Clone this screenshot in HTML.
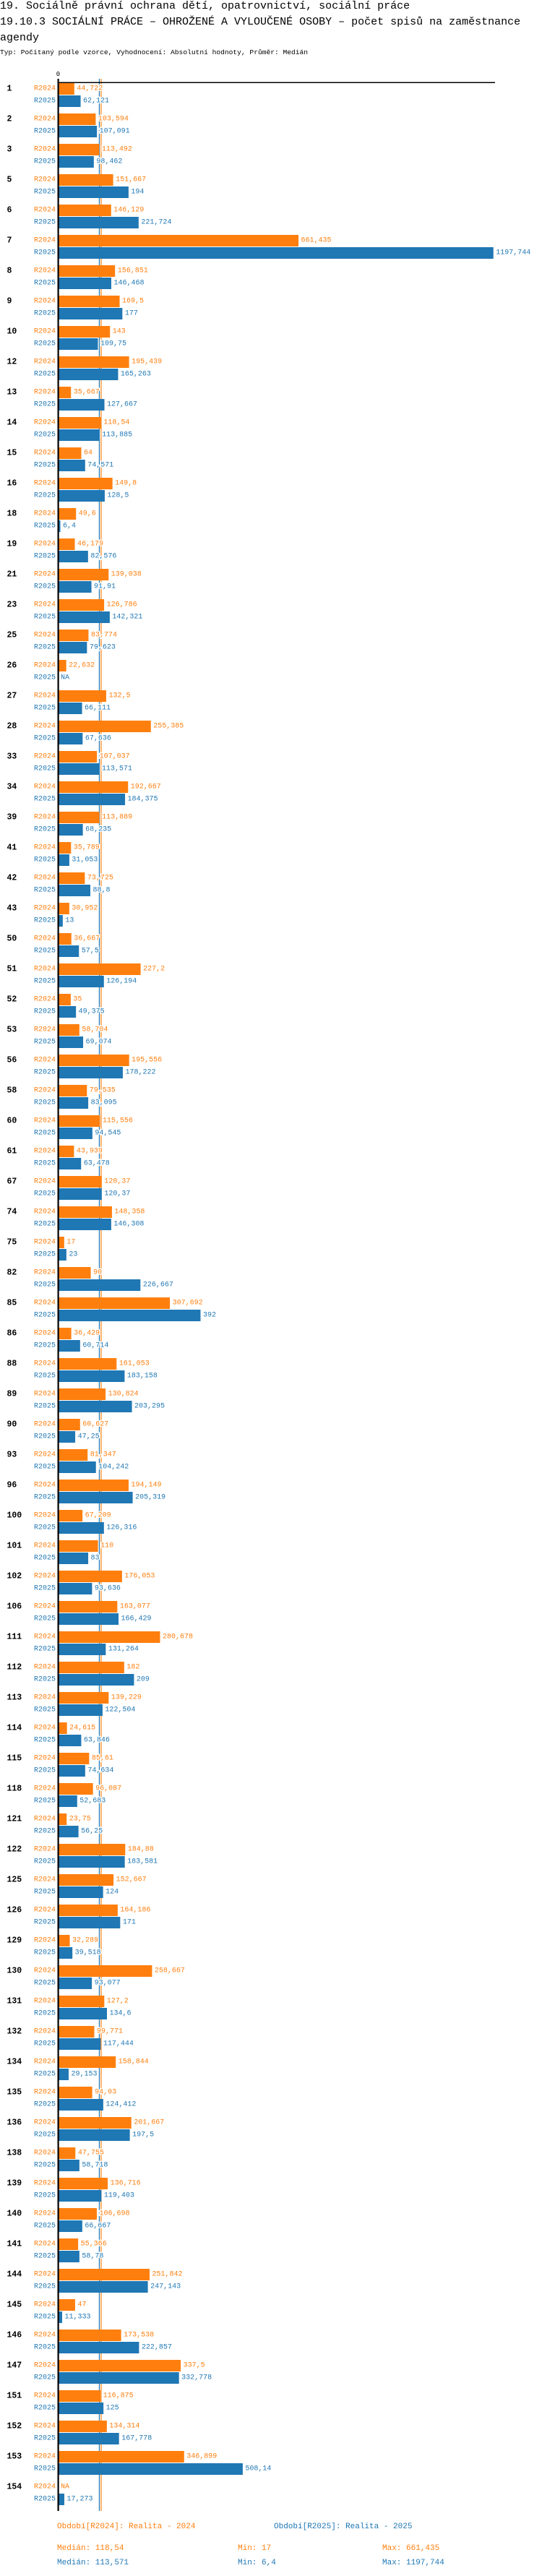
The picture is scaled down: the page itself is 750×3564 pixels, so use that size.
<!DOCTYPE html>
<html><head><meta charset="utf-8">
<style>
html,body{margin:0;padding:0;background:#fff;}
body{width:750px;height:3564px;position:relative;overflow:hidden;font-family:"Liberation Mono",monospace;}
.t{position:absolute;left:0;white-space:nowrap;color:#000;}
</style></head><body>
<div class="t" style="top:0px;font-size:15px;line-height:17px;">19. Sociálně právní ochrana dětí, opatrovnictví, sociální práce</div>
<div class="t" style="top:22px;font-size:15px;line-height:17px;">19.10.3 SOCIÁLNÍ PRÁCE – OHROŽENÉ A VYLOUČENÉ OSOBY – počet spisů na zaměstnance</div>
<div class="t" style="top:44px;font-size:15px;line-height:17px;">agendy</div>
<div class="t" style="top:67px;font-size:9.6px;line-height:12px;">Typ: Počítaný podle vzorce, Vyhodnocení: Absolutní hodnoty, Průměr: Medián</div>
<svg id="chart" width="750" height="3564" style="position:absolute;left:0;top:0;" xmlns="http://www.w3.org/2000/svg"></svg>
<script>
const categories = ["1","2","3","5","6","7","8","9","10","12","13","14","15","16","18","19","21","23","25","26","27","28","33","34","39","41","42","43","50","51","52","53","56","58","60","61","67","74","75","82","85","86","88","89","90","93","96","100","101","102","106","111","112","113","114","115","118","121","122","125","126","129","130","131","132","134","135","136","138","139","140","141","144","145","146","147","151","152","153","154"];
const values2024 = [44.722,103.594,113.492,151.667,146.129,661.435,156.851,169.5,143,195.439,35.667,118.54,64,149.8,49.6,46.179,139.038,126.786,83.774,22.632,132.5,255.385,107.037,192.667,113.889,35.789,73.725,30.952,36.667,227.2,35,58.704,195.556,79.535,115.556,43.939,120.37,148.358,17,90,307.692,36.429,161.053,130.824,60.627,81.347,194.149,67.209,110,176.053,163.077,280.678,182,139.229,24.615,85.61,96.087,23.75,184.88,152.667,164.186,32.289,258.667,127.2,99.771,158.844,94.03,201.667,47.755,136.716,106.698,55.366,251.842,47,173.538,337.5,116.875,134.314,346.899,null];
const values2025 = [62.121,107.091,98.462,194,221.724,1197.744,146.468,177,109.75,165.263,127.667,113.885,74.571,128.5,6.4,82.576,91.91,142.321,79.623,null,66.111,67.636,113.571,184.375,68.235,31.053,88.8,13,57.5,126.194,49.375,69.074,178.222,83.095,94.545,63.478,120.37,146.308,23,226.667,392,60.714,183.158,203.295,47.25,104.242,205.319,126.316,83,93.636,166.429,131.264,209,122.504,63.846,74.634,52.683,56.25,183.581,124,171,39.518,93.077,134.6,117.444,29.153,124.412,197.5,58.718,119.403,66.667,58.78,247.143,11.333,222.857,332.778,125,167.778,508.14,17.273];
const seriesNames = ["R2024","R2025"];
const legendLabels = ["Období[R2024]: Realita - 2024","Období[R2025]: Realita - 2025"];

const NS="http://www.w3.org/2000/svg";
const svg=document.getElementById('chart');
const C1="#ff7f0e", C2="#1f77b4";
const X0=80.3, SC=0.503, TOP=115, STEP=42;
function xs(v){return X0+v*SC;}
function yg(i){return TOP+i*STEP;}
function fmt(v){return Number(v.toFixed(3)).toString().replace('.',',');}
function median(a){const b=a.filter(v=>v!==null).sort((p,q)=>p-q);const n=b.length;return n%2?b[(n-1)/2]:(b[n/2-1]+b[n/2])/2;}
function mk(tag,attrs){const e=document.createElementNS(NS,tag);for(const k in attrs)e.setAttribute(k,attrs[k]);svg.appendChild(e);return e;}
function txt(x,y,s,fill,size,extra){const e=mk('text',Object.assign({x:x,y:y,fill:fill,'font-size':size,'font-family':'Liberation Mono, monospace','dominant-baseline':'central'},extra||{}));e.textContent=s;return e;}

const n=categories.length;
const bottom=yg(n-1)+42-1;
const med1=median(values2024), med2=median(values2025);

// median lines
let ml=mk('line',{x1:xs(med2),x2:xs(med2),y1:109,y2:bottom,stroke:C2,'stroke-width':1.2});


ml=mk('line',{x1:xs(med1),x2:xs(med1),y1:109,y2:bottom,stroke:C1,'stroke-width':1.2});



for(let i=0;i<n;i++){
  const y=yg(i);
  let g=txt(9.5,y+8,categories[i],'#000',11.5,{'font-weight':'bold'});
  
  
  const rows=[[values2024[i],C1,y,seriesNames[0]],[values2025[i],C2,y+17,seriesNames[1]]];
  rows.forEach(r=>{
    const v=r[0],col=r[1],yy=r[2];
    let l=txt(77,yy+8,r[3],col,10,{'text-anchor':'end'});
    
    
    if(v===null){
      let na=txt(84,yy+8,'NA',col,10);
      
      
      return;
    }
    const b=mk('rect',{x:81,y:yy,width:Math.max(0,xs(v)-81),height:16,fill:col});
    
    
    const vl=txt(xs(v)+3.5,yy+8,fmt(v),col,10,{stroke:'#fff','stroke-width':3,'paint-order':'stroke'});
    
    
  });
}
// axes
let ax=mk('rect',{x:79.5,y:109,width:2.2,height:bottom-109,fill:'#000'});


ax=mk('rect',{x:80,y:113.5,width:605,height:1.5,fill:'#000'});


let z=txt(80.5,103,'0','#000',9,{'text-anchor':'middle'});



// footer
const fy=bottom+22;
let f=txt(79,fy,legendLabels[0],C1,11);


f=txt(379,fy,legendLabels[1],C2,11);


function minv(a){return Math.min(...a.filter(v=>v!==null));}
function maxv(a){return Math.max(...a.filter(v=>v!==null));}
[[values2024,C1,fy+30,'r2024'],[values2025,C2,fy+50,'r2025']].forEach(r=>{
  let s=txt(79,r[2],'Medián: '+fmt(median(r[0])),r[1],11);
  
  
  s=txt(329,r[2],'Min: '+fmt(minv(r[0])),r[1],11);
  
  
  s=txt(529,r[2],'Max: '+fmt(maxv(r[0])),r[1],11);
  
  
});
</script>
</body></html>
